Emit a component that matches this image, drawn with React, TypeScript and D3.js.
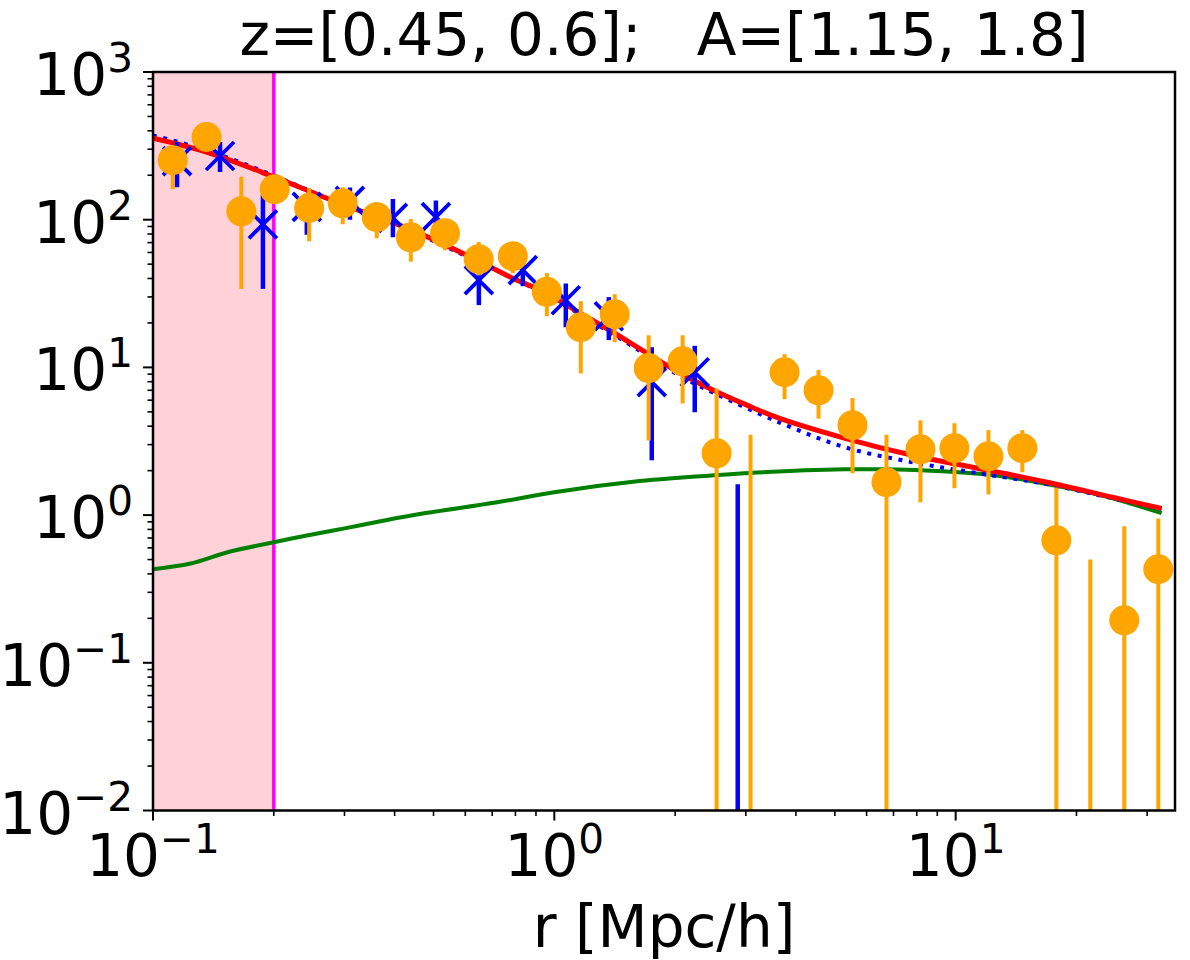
import React from 'react'
import * as d3 from 'd3'

// measured correlation points (orange) and the second sample (blue)
const orangeR = [0.112, 0.136, 0.166, 0.201, 0.245, 0.297, 0.361, 0.439, 0.534, 0.648, 0.788, 0.958, 1.164, 1.414, 1.718, 2.088, 2.537, 3.083, 3.747, 4.553, 5.533, 6.724, 8.171, 9.929, 12.07, 14.66, 17.82, 21.65, 26.31, 31.98]
const orangeV = [253, 363, 114, 161, 120, 129, 104, 76, 81, 54, 56.6, 32.5, 18.7, 22.9, 9.9, 11.0, 2.62, -1.0, 9.27, 7.0, 4.06, 1.67, 2.79, 2.84, 2.5, 2.84, 0.675, -0.3, 0.194, 0.43]
const orangeLo = [161, 310, 34, 140, 71.6, 93, 75, 52, 62, 42, 43.5, 22.2, 9.1, 14.8, 3.2, 5.7, -2, -5, 6.1, 4.5, 1.92, -1, 1.22, 1.52, 1.38, 1.95, -0.2, -1, -0.5, -0.1]
const orangeHi = [300, 420, 195, 185, 164, 166, 132, 101, 100, 70.5, 70, 43.5, 28.1, 31.3, 16.5, 16.5, 7.2, 3.5, 12.3, 9.6, 6.2, 3.5, 4.38, 4.19, 3.76, 3.76, 1.54, 0.5, 0.84, 0.95]

const blueR = [0.1148, 0.1469, 0.1879, 0.2417, 0.3095, 0.3961, 0.5069, 0.6486, 0.8346, 1.068, 1.367, 1.749, 2.238, 2.864]
const blueV = [249, 270, 93, 122, 134, 103, 104, 39, 45.6, 28.5, 22.2, 7.94, 9.27, -0.5]
const blueLo = [166, 210, 34, 79, 100, 76, 80, 26.4, 35.5, 18.7, 15.3, 2.35, 4.97, -2]
const blueHi = [336, 336, 147, 150, 165, 138, 135, 52, 51.6, 37, 29.9, 13.7, 14, 1.62]

// model curves
const redR = [0.1, 0.136, 0.2, 0.292, 0.43, 0.626, 0.79, 0.94, 1.16, 1.4, 1.7, 2.05, 2.49, 3.02, 3.63, 5.3, 7.8, 11.4, 16.9, 24.6, 32.6]
const redV = [357, 287, 195, 129, 87.7, 55, 40, 32.5, 23.3, 17.3, 12.5, 9.2, 7.0, 5.55, 4.53, 3.31, 2.54, 2.07, 1.67, 1.32, 1.11]

const blueCurveR = [0.1, 0.136, 0.2, 0.292, 0.43, 0.626, 0.94, 1.4, 2.05, 2.49, 3.63, 5.3, 7.8, 11.4, 16.9, 24.6, 32.6]
const blueCurveV = [372, 295, 199, 128, 86, 54, 31.6, 16.8, 8.8, 6.75, 4.25, 2.88, 2.28, 1.92, 1.62, 1.3, 1.1]

const greenR = [0.1, 0.124, 0.155, 0.2, 0.24, 0.298, 0.374, 0.466, 0.72, 1.0, 1.63, 2.05, 3.07, 5.3, 6.5, 9.5, 12.0, 14.1, 16.9, 20.8, 24.6, 32.6]
const greenV = [0.43, 0.47, 0.565, 0.655, 0.725, 0.81, 0.915, 1.02, 1.22, 1.43, 1.7, 1.79, 1.93, 2.04, 2.04, 1.97, 1.88, 1.77, 1.62, 1.45, 1.3, 1.03]

const rCut = 0.2
const xTicks = [0.1, 1, 10]
const xTickExp = ['−1', '0', '1']
const yTicks = [0.01, 0.1, 1, 10, 100, 1000]
const yTickExp = ['−2', '−1', '0', '1', '2', '3']

const W = 1190
const H = 960
const left = 153
const right = 1175
const top = 72
const bottom = 810.5
const font = 'DejaVu Sans'

const App: React.FC = () => {
  const x = d3.scaleLog().domain([0.1, 35.2]).range([left, right])
  const y = d3.scaleLog().domain([0.01, 1000]).range([bottom, top])

  const yc = (v: number) => (v <= 0.01 ? bottom + 2 : y(v))

  const line = d3
    .line<[number, number]>()
    .x((d) => x(d[0]))
    .y((d) => y(d[1]))
    .curve(d3.curveCatmullRom.alpha(0.5))

  const zip = (a: number[], b: number[]) => a.map((v, i) => [v, b[i]] as [number, number])

  const xMinor: number[] = []
  for (const dec of [0.1, 1, 10]) for (let k = 2; k <= 9; k++) if (dec * k <= 35.2) xMinor.push(dec * k)
  const yMinor: number[] = []
  for (const dec of [0.01, 0.1, 1, 10, 100]) for (let k = 2; k <= 9; k++) yMinor.push(dec * k)

  return (
    <svg width={W} height={H} style={{ position: 'absolute', left: 0, top: 0, background: '#fff' }} fontFamily={font}>
      <defs>
        <clipPath id="plot">
          <rect x={left} y={top} width={right - left} height={bottom - top} />
        </clipPath>
      </defs>

      <g clipPath="url(#plot)">
        <rect x={x(0.1)} y={top} width={x(rCut) - x(0.1)} height={bottom - top} fill="#ffc0cb" opacity={0.72} />
        <line x1={x(rCut)} x2={x(rCut)} y1={top} y2={bottom} stroke="#ff00ff" strokeWidth={3.5} />

        <path d={line(zip(greenR, greenV)) || ''} fill="none" stroke="#008000" strokeWidth={4} />
        <path d={line(zip(blueCurveR, blueCurveV)) || ''} fill="none" stroke="#0000ff" strokeWidth={4} strokeDasharray="4 6.6" />
        <path d={line(zip(redR, redV)) || ''} fill="none" stroke="#ff0000" strokeWidth={5} />

        {blueR.map((r, i) => (
          <g key={'b' + i}>
            <line x1={x(r)} x2={x(r)} y1={yc(blueLo[i])} y2={yc(blueHi[i])} stroke="#0000ff" strokeWidth={4.5} />
            {blueV[i] > 0 && (
              <path
                transform={`translate(${x(r)},${y(blueV[i])})`}
                d="M-14,-14L14,14M-14,14L14,-14"
                stroke="#0000ff"
                strokeWidth={3.8}
                fill="none"
              />
            )}
          </g>
        ))}

        {orangeR.map((r, i) => (
          <g key={'o' + i}>
            <line x1={x(r)} x2={x(r)} y1={yc(orangeLo[i])} y2={yc(orangeHi[i])} stroke="#ffa500" strokeWidth={4} />
            {orangeV[i] > 0 && <circle cx={x(r)} cy={y(orangeV[i])} r={15} fill="#ffa500" />}
          </g>
        ))}
      </g>

      {/* frame */}
      <rect x={left} y={top} width={right - left} height={bottom - top} fill="none" stroke="#000" strokeWidth={2.5} />

      {/* x ticks */}
      {xTicks.map((t) => (
        <line key={'xt' + t} x1={x(t)} x2={x(t)} y1={bottom} y2={bottom + 10} stroke="#000" strokeWidth={2} />
      ))}
      {xMinor.map((t) => (
        <line key={'xm' + t} x1={x(t)} x2={x(t)} y1={bottom} y2={bottom + 5.5} stroke="#000" strokeWidth={1.6} />
      ))}
      {xTicks.map((t, i) => (
        <text key={'xl' + t} x={x(t)} y={876} textAnchor="middle" fontSize={58}>
          <tspan>10</tspan>
          <tspan fontSize={40.6} dy={-23}>{xTickExp[i]}</tspan>
        </text>
      ))}

      {/* y ticks */}
      {yTicks.map((t) => (
        <line key={'yt' + t} x1={left - 10} x2={left} y1={y(t)} y2={y(t)} stroke="#000" strokeWidth={2} />
      ))}
      {yMinor.map((t) => (
        <line key={'ym' + t} x1={left - 5.5} x2={left} y1={y(t)} y2={y(t)} stroke="#000" strokeWidth={1.6} />
      ))}
      {yTicks.map((t, i) => (
        <text key={'yl' + t} x={133} y={y(t) + 23} textAnchor="end" fontSize={58}>
          <tspan>10</tspan>
          <tspan fontSize={40.6} dy={-23}>{yTickExp[i]}</tspan>
        </text>
      ))}

      <text x={(left + right) / 2} y={947} textAnchor="middle" fontSize={58}>
        r [Mpc/h]
      </text>
      <text x={(left + right) / 2} y={55} textAnchor="middle" fontSize={58} style={{ whiteSpace: 'pre' }}>
        {'z=[0.45, 0.6];   A=[1.15, 1.8]'}
      </text>
    </svg>
  )
}

export default App
